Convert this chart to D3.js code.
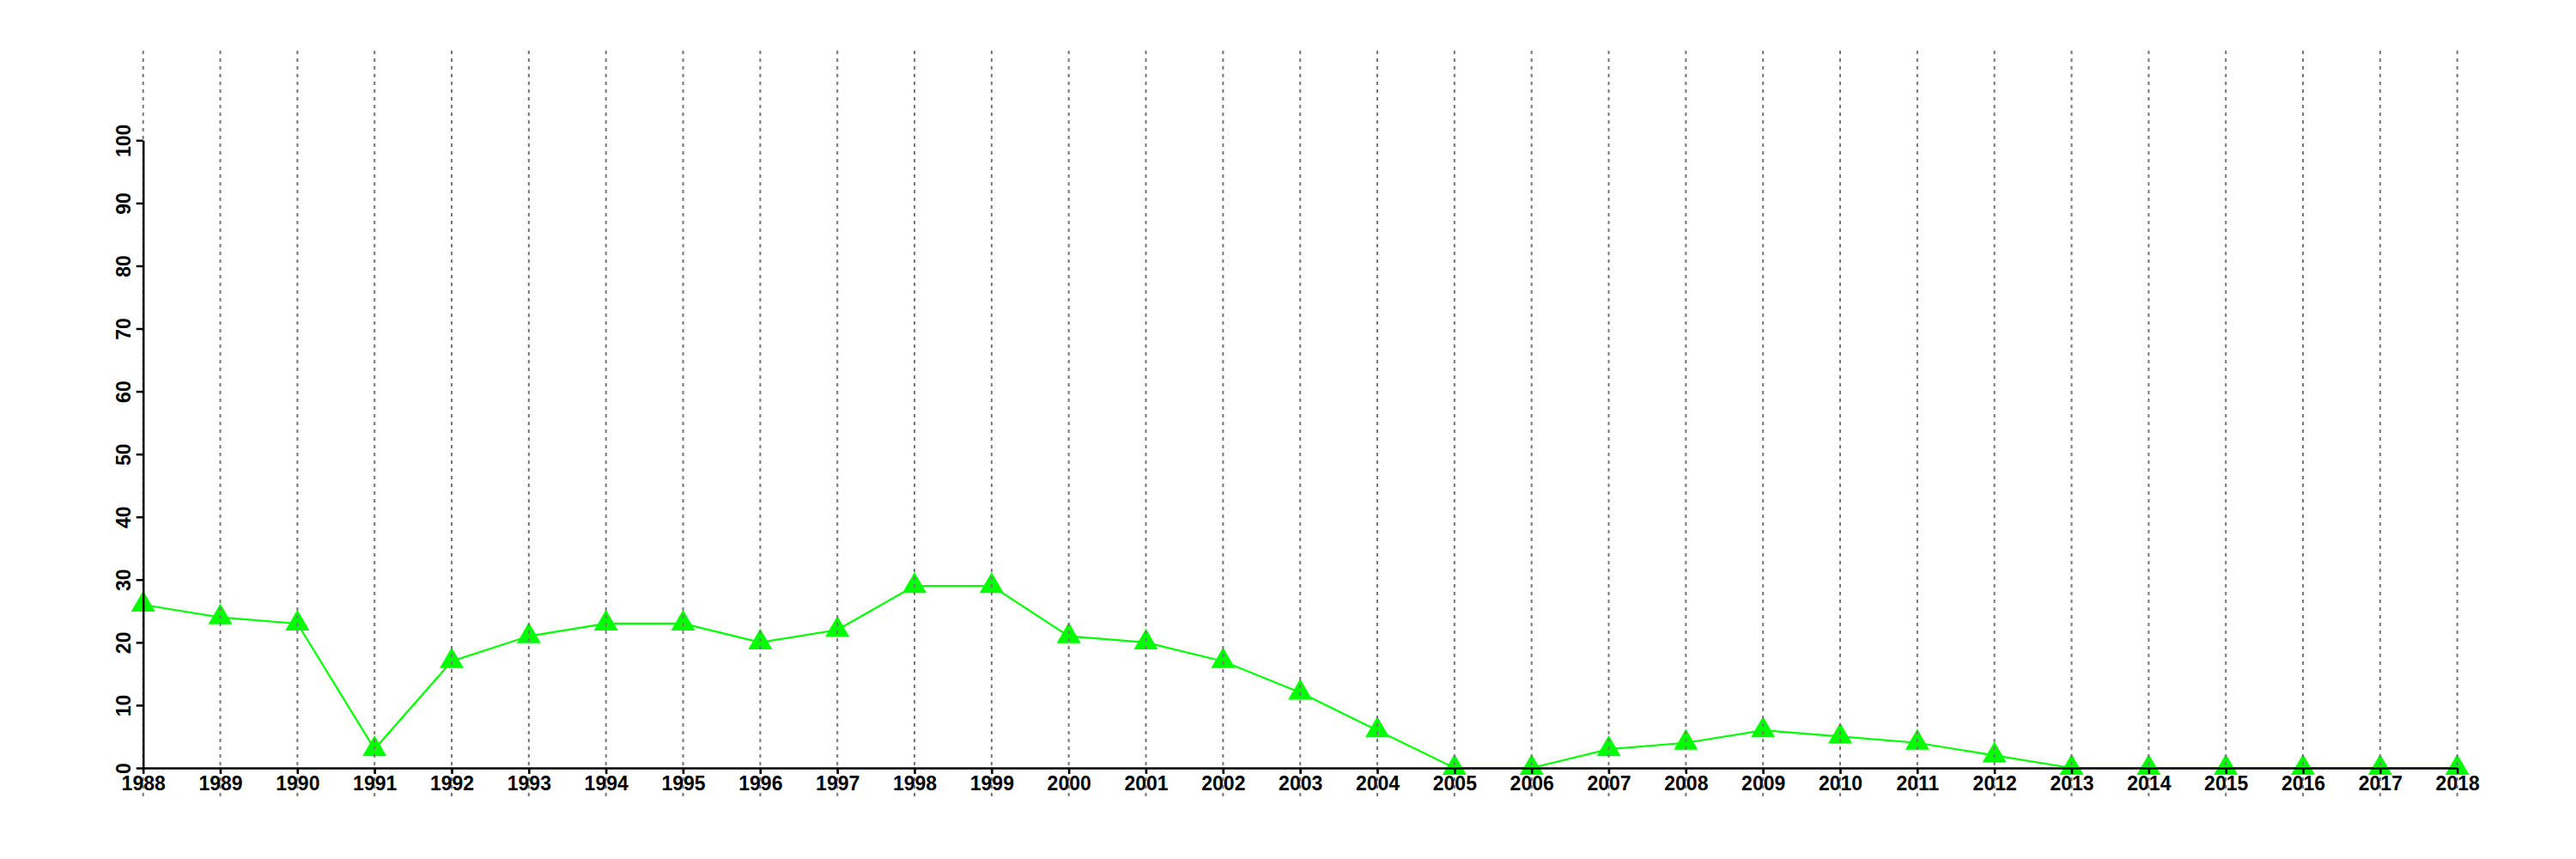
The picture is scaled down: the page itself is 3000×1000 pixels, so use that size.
<!DOCTYPE html>
<html>
<head>
<meta charset="utf-8">
<script src="https://cdn.jsdelivr.net/npm/d3@7"></script>
<style>
html,body{margin:0;padding:0;background:#fff;}
svg{display:block;}
text{font-family:"Liberation Sans",Arial,Helvetica,sans-serif;font-weight:bold;}
</style>
</head>
<body>
<svg id="chart" width="3000" height="1000"></svg>
<script>
const years = [1988,1989,1990,1991,1992,1993,1994,1995,1996,1997,1998,1999,2000,2001,2002,2003,2004,2005,2006,2007,2008,2009,2010,2011,2012,2013,2014,2015,2016,2017,2018];
const values = [26,24,23,3,17,21,23,23,20,22,29,29,21,20,17,12,6,0,0,3,4,6,5,4,2,0,0,0,0,0,0];
const yTicks = [0,10,20,30,40,50,60,70,80,90,100];

const svg = d3.select("#chart");
const x = d3.scaleLinear().domain([1988, 2018]).range([166.7, 2861.7]);
const y = d3.scaleLinear().domain([0, 100]).range([894, 163.3]);

const data = years.map((yr, i) => ({yr, v: values[i]}));

// line
svg.append("path")
  .datum(data)
  .attr("fill", "none")
  .attr("stroke", "#00ff00")
  .attr("stroke-width", 2.2)
  .attr("d", d3.line().x(d => x(d.yr)).y(d => y(d.v)));

// points
svg.append("g").selectAll("path")
  .data(data)
  .join("path")
  .attr("transform", d => `translate(${x(d.yr)},${y(d.v)})`)
  .attr("d", d3.symbol().type(d3.symbolTriangle).size(340))
  .attr("fill", "#00ff00");

// vertical grid lines
svg.append("g").selectAll("line")
  .data(years)
  .join("line")
  .attr("x1", d => x(d)).attr("x2", d => x(d))
  .attr("y1", 59).attr("y2", 927)
  .attr("stroke", "#777")
  .attr("stroke-width", 2)
  .attr("stroke-dasharray", "4,5");

// x axis
const xAxis = d3.axisBottom(x).tickValues(years).tickFormat(d3.format("d")).tickSize(7).tickSizeOuter(0);
const gx = svg.append("g").attr("transform", `translate(0,${y(0)})`).call(xAxis);
gx.select(".domain").attr("stroke", "#000").attr("stroke-width", 2.5);
gx.selectAll(".tick line").attr("stroke", "#000").attr("stroke-width", 2.5);
gx.selectAll(".tick text").attr("font-size", 23).attr("fill", "#000").attr("y", 10).attr("dy", "0.71em");

// y axis
const yAxis = d3.axisLeft(y).tickValues(yTicks).tickSize(8).tickSizeOuter(0);
const gy = svg.append("g").attr("transform", `translate(${x(1988)},0)`).call(yAxis);
gy.select(".domain").attr("stroke", "#000").attr("stroke-width", 2.5);
gy.selectAll(".tick line").attr("stroke", "#000").attr("stroke-width", 2.5);
gy.selectAll(".tick text")
  .attr("font-size", 23)
  .attr("fill", "#000")
  .attr("x", null).attr("dy", null)
  .attr("text-anchor", "middle")
  .attr("transform", "translate(-15,0) rotate(-90)");
</script>
</body>
</html>
